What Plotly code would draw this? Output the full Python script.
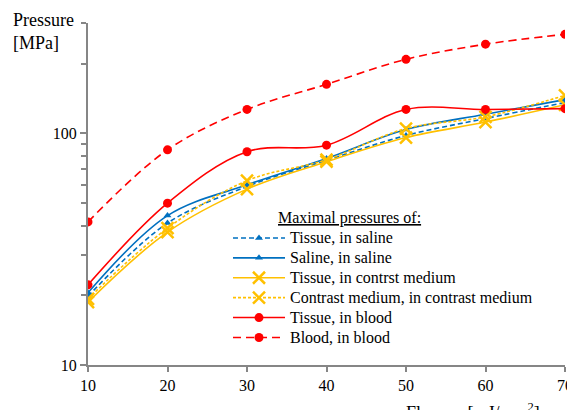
import plotly.graph_objects as go

fluence = [10, 20, 30, 40, 50, 60, 70]
tissue_saline = [19.8, 41, 59, 76.5, 98, 116, 136]
saline_saline = [20.5, 44.2, 60, 78, 104, 121, 140]
tissue_contrast = [18.7, 37.5, 57.5, 75.5, 96, 112, 133]
contrast_contrast = [19.3, 39, 62.5, 77, 105, 118, 146]
tissue_blood = [22.2, 50, 83.4, 89, 127, 127, 128]
blood_blood = [41.5, 85, 127, 163, 209, 243, 268]

names = ["Tissue, in saline", "Saline, in saline", "Tissue, in contrst medium",
         "Contrast medium, in contrast medium", "Tissue, in blood", "Blood, in blood"]
legend_title = "Maximal pressures of:"

BLUE = "#0070C0"
YEL = "#FFC000"
RED = "#FF0000"
FONT = "Liberation Serif"

series = [
    (tissue_saline, BLUE, "5px,3px", dict(symbol="triangle-up", size=7, color=BLUE)),
    (saline_saline, BLUE, "solid", dict(symbol="triangle-up", size=7, color=BLUE)),
    (tissue_contrast, YEL, "solid", dict(symbol="x-thin", size=12, color=YEL, line=dict(color=YEL, width=2.5))),
    (contrast_contrast, YEL, "3px,2px", dict(symbol="x-thin", size=12, color=YEL, line=dict(color=YEL, width=2.5))),
    (tissue_blood, RED, "solid", dict(symbol="circle", size=9, color=RED)),
    (blood_blood, RED, "8px,5px", dict(symbol="circle", size=9, color=RED)),
]

fig = go.Figure()
for (vals, col, dash, mk), nm in zip(series, names):
    fig.add_trace(go.Scatter(
        x=fluence, y=vals, name='<span style="font-size:16px">' + nm + '</span>',
        mode="lines+markers",
        line=dict(color=col, width=1.6, dash=dash, shape="spline", smoothing=1.0),
        marker=mk,
    ))

fig.update_layout(
    width=567, height=410,
    margin=dict(l=88, r=2, t=23, b=45, autoexpand=False),
    paper_bgcolor="white", plot_bgcolor="white",
    font=dict(family=FONT, size=16, color="black"),
    showlegend=True,
    legend=dict(
        x=0.2935, y=0.476, xanchor="left", yanchor="top",
        bgcolor="rgba(0,0,0,0)",
        title=dict(text="\u00a0" * 12 + "<u>" + legend_title + "</u>", side="top",
                   font=dict(family=FONT, size=16)),
        font=dict(family=FONT, size=13),
        tracegroupgap=0, itemwidth=52,
    ),
    xaxis=dict(
        range=[10, 70], tickvals=fluence, ticks="outside", ticklen=5,
        tickcolor="#868686", tickwidth=1.5,
        showline=True, linecolor="#868686", linewidth=2,
        showgrid=False, zeroline=False, ticklabeloverflow="allow",
        tickfont=dict(family=FONT, size=16),
    ),
    yaxis=dict(
        type="log", range=[1, 2.4771],
        tickvals=[10, 100], ticktext=["10", "100"],
        ticks="outside", ticklen=6, tickcolor="#868686", tickwidth=1.5,
        minor=dict(tickvals=[20, 30, 40, 50, 60, 70, 80, 90, 200, 300],
                   ticks="outside", ticklen=5, tickcolor="#868686", tickwidth=1.5,
                   showgrid=False),
        showline=True, linecolor="#868686", linewidth=2,
        showgrid=False, zeroline=False, ticklabeloverflow="allow",
        tickfont=dict(family=FONT, size=16),
    ),
    annotations=[
        dict(text="Pressure<br>[MPa]", xref="paper", yref="paper",
             x=-0.162, y=1.045, xanchor="left", yanchor="top", align="left",
             showarrow=False, font=dict(family=FONT, size=18)),
        dict(text="Fluence [mJ/mm<sup>2</sup>]", xref="paper", yref="paper",
             x=0.663, y=-0.096, xanchor="left", yanchor="top", align="left",
             showarrow=False, font=dict(family=FONT, size=18)),
    ],
)

fig.write_html("out.html", config={"displayModeBar": False},
               post_script="document.body.style.margin='0';")
